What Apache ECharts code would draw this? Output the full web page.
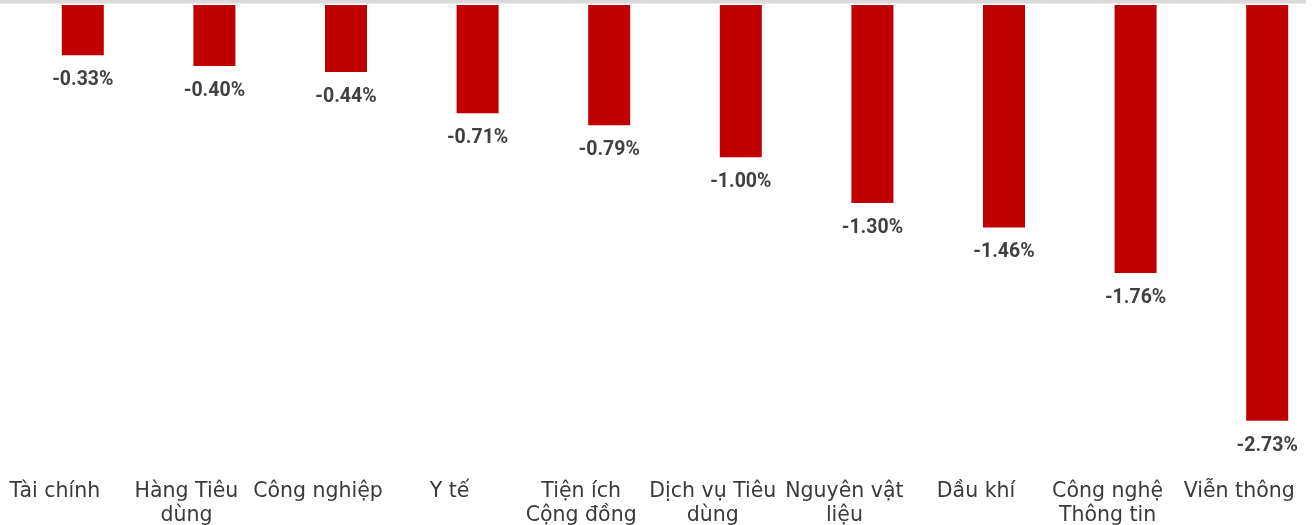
<!DOCTYPE html>
<html>
<head>
<meta charset="utf-8">
<script src="https://cdn.jsdelivr.net/npm/echarts@6/dist/echarts.min.js"></script>
<style>
  html, body { margin: 0; padding: 0; background: #fff; }
  #chart { width: 1312px; height: 525px; }
</style>
</head>
<body>
<div id="chart"></div>
<script>
  // ngành
  var categories = ["Tài chính", "Hàng Tiêu\ndùng", "Công nghiệp", "Y tế", "Tiện ích\nCộng đồng",
    "Dịch vụ Tiêu\ndùng", "Nguyên vật\nliệu", "Dầu khí", "Công nghệ\nThông tin", "Viễn thông"];
  // % thay đổi
  var changes = [-0.33, -0.40, -0.44, -0.71, -0.79, -1.00, -1.30, -1.46, -1.76, -2.73];

  var chart = echarts.init(document.getElementById("chart"));

  var option = {
    animation: false,
    graphic: [
      { type: "rect", shape: { x: 0, y: 0, width: 1306, height: 3 }, style: { fill: "#d9d9d9" } },
      { type: "rect", shape: { x: 0, y: 3, width: 1306, height: 1 }, style: { fill: "#ebebeb" } }
    ],
    grid: { left: 17, right: -21, top: 5, bottom: 63, containLabel: false, outerBoundsMode: "none" },
    xAxis: {
      type: "category", data: categories, position: "bottom",
      axisLine: { show: false, onZero: false }, axisTick: { show: false },
      axisLabel: {
        interval: 0, margin: 18, color: "#3a3a3a", fontSize: 20.5,
        fontFamily: "DejaVu Sans", lineHeight: 24,
        padding: [0, 56, 0, 0]
      }
    },
    yAxis: { type: "value", min: -3, max: 0, show: false },
    series: [{
      type: "bar",
      data: changes,
      barWidth: 42,
      itemStyle: { color: "#c00000" },
      label: {
        show: true, position: "bottom", distance: 15,
        color: "#404040", fontSize: 19.5, fontWeight: "bold", fontFamily: "Roboto",
        formatter: function (p) { return p.value.toFixed(2) + "%"; }
      }
    }]
  };
  chart.setOption(option);
</script>
</body>
</html>
